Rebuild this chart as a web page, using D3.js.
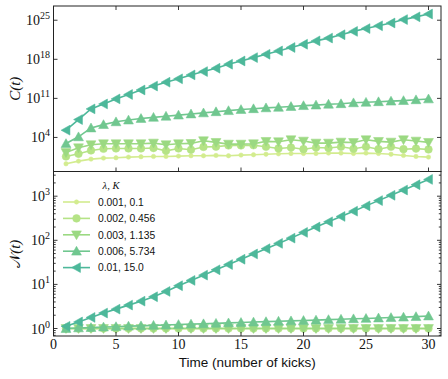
<!DOCTYPE html>
<html>
<head>
<meta charset="utf-8">
<script src="https://cdn.jsdelivr.net/npm/d3@7"></script>
<style>
  body { margin: 0; background: #fff; }
  svg { display: block; }
</style>
</head>
<body>
<svg id="chart" width="448" height="379"></svg>
<script>
const width = 448;
const height = 379;

// data
const times = d3.range(1, 31);
const labels = ["0.001, 0.1", "0.002, 0.456", "0.003, 1.135", "0.006, 5.734", "0.01, 15.0"];
const colors = ["#d3ec8f", "#b5e386", "#9bd982", "#70c78f", "#4db89a"];
const markers = ["point", "circle", "down", "up", "left"];

// C(t)
const cSeries001 = [0.19, 0.58, 1.32, 2.0, 2.29, 3.02, 3.47, 3.98, 3.98, 4.57, 5.25, 5.25, 6.03, 5.25, 6.92,
  7.94, 10, 11.7, 13.5, 13.5, 13.5, 15.8, 15.8, 13.5, 15.8, 13.5, 10, 6.03, 3.98, 3.02];
const cSeries002 = [3.9, 11.7, 47, 93, 107, 107, 107, 126, 40, 107, 63, 200, 224, 372, 372,
  398, 214, 107, 158, 79, 158, 126, 214, 93, 214, 79, 214, 79, 100, 71];
const cSeries003 = [20, 141, 490, 741, 741, 741, 741, 977, 490, 741, 851, 2570, 1290, 646, 646,
  741, 1950, 1700, 3890, 2240, 977, 977, 1480, 1260, 3890, 1950, 1480, 3890, 2240, 1290];
const cSeries006 = [8e2, 1.3e4, 5e5, 2e6, 6.3e6, 1.3e7, 2.5e7, 4e7, 6.3e7, 1e8, 1.6e8, 2.5e8, 4e8, 6.3e8, 1e9,
  1.4e9, 2e9, 2.5e9, 3.5e9, 5e9, 6.3e9, 8.9e9, 1.1e10, 1.6e10, 2e10, 2.5e10, 3.2e10, 4e10, 5.6e10, 7.9e10];
const cSeries01 = [2e5, 1.6e7, 1.3e9, 1e10, 8e10, 5e11, 3.2e12, 1.6e13, 7.9e13, 3.2e14, 1.6e15, 6.3e15, 2.5e16, 1.3e17, 5e17,
  2e18, 7.9e18, 3.2e19, 1.3e20, 5e20, 2e21, 6.3e21, 2.5e22, 1e23, 3.2e23, 1e24, 3.2e24, 1.3e25, 4e25, 1.3e26];

// N(t)
const nSeries001 = [1, 1, 1, 1, 1, 1, 1, 1, 1, 1, 1, 1, 1, 1, 1, 1, 1, 1, 1, 1, 1, 1, 1, 1, 1, 1, 1, 1, 1, 1];
const nSeries002 = [1, 1, 1, 1, 1, 1, 1, 1, 1, 1, 1, 1, 1, 1, 1, 1, 1, 1, 1, 1, 1, 1, 1, 1, 1, 1, 1, 1, 1, 1];
const nSeries003 = [1, 1, 1, 1, 1, 1, 1, 1, 1, 1, 1, 1, 1, 1, 1, 1, 1, 1, 1, 1, 1, 1, 1, 1, 1, 1, 1, 1, 1, 1];
const nSeries006 = [1.0, 1.03, 1.05, 1.08, 1.10, 1.13, 1.15, 1.18, 1.20, 1.23, 1.26, 1.28, 1.31, 1.34, 1.37,
  1.40, 1.43, 1.46, 1.49, 1.52, 1.55, 1.59, 1.62, 1.66, 1.69, 1.73, 1.77, 1.81, 1.86, 1.92];
const nSeries01 = [1.12, 1.41, 1.78, 2.24, 2.75, 3.39, 4.17, 5.25, 6.92, 9.33, 12.3, 16.2, 21.4, 28.2, 37.2,
  49.0, 64.6, 85.1, 112, 151, 200, 263, 347, 457, 603, 794, 1047, 1380, 1820, 2400];

const xTicks = [0, 5, 10, 15, 20, 25, 30];
const cTicks = [4, 11, 18, 25];   // exponents
const nTicks = [0, 1, 2, 3];

const cData = [cSeries001, cSeries002, cSeries003, cSeries006, cSeries01];
const nData = [nSeries001, nSeries002, nSeries003, nSeries006, nSeries01];

const left = 53.5, right = 441;
const topY0 = 6, midY = 171.5, botY1 = 336;

const svg = d3.select("#chart");
const axisColor = "#222";

const x = d3.scaleLinear().domain([0, 31]).range([left, right]);
const yC = d3.scaleLog().domain([Math.pow(10, -2.1), Math.pow(10, 27.55)]).range([midY, topY0]);
const yN = d3.scaleLog().domain([Math.pow(10, -0.17), Math.pow(10, 3.56)]).range([botY1, midY]);

// marker path builder
function markerPath(kind) {
  if (kind === "point") return d3.symbol(d3.symbolCircle, 15)();
  if (kind === "circle") return d3.symbol(d3.symbolCircle, 46)();
  const s = 4.9;
  if (kind === "up") return `M0,${-s}L${s},${s * 0.8}L${-s},${s * 0.8}Z`;
  if (kind === "down") return `M0,${s}L${s},${-s * 0.8}L${-s},${-s * 0.8}Z`;
  return `M${-s},0L${s * 0.8},${-s}L${s * 0.8},${s}Z`;
}

function drawPanel(y, data) {
  const g = svg.append("g");
  const line = d3.line().x((d, i) => x(times[i])).y(d => y(d));
  data.forEach((vals, k) => {
    g.append("path")
      .attr("d", line(vals))
      .attr("fill", "none")
      .attr("stroke", colors[k])
      .attr("stroke-width", 1.6);
    g.selectAll(null)
      .data(vals)
      .enter()
      .append("path")
      .attr("d", markerPath(markers[k]))
      .attr("transform", (d, i) => `translate(${x(times[i])},${y(d)})`)
      .attr("fill", colors[k])
      .attr("stroke", colors[k])
      .attr("stroke-opacity", 0.55)
      .attr("stroke-width", 1);
  });
}

drawPanel(yC, cData);
drawPanel(yN, nData);

// frames
[[topY0, midY], [midY, botY1]].forEach(([a, b]) => {
  svg.append("rect")
    .attr("x", left).attr("y", a)
    .attr("width", right - left).attr("height", b - a)
    .attr("fill", "none").attr("stroke", axisColor).attr("stroke-width", 1);
});

function tickLines(values, pos, len, orient) {
  svg.append("g").selectAll("line")
    .data(values)
    .enter()
    .append("line")
    .attr("x1", d => orient === "h" ? pos[0] : x(d))
    .attr("x2", d => orient === "h" ? pos[0] + len : x(d))
    .attr("y1", d => orient === "h" ? pos[1](d) : pos[0])
    .attr("y2", d => orient === "h" ? pos[1](d) : pos[0] + len)
    .attr("stroke", axisColor)
    .attr("stroke-width", 0.9);
}

// x ticks (inward)
tickLines(xTicks, [topY0], 4, "v");
tickLines(xTicks, [midY], -4, "v");
tickLines(xTicks, [botY1], -4, "v");

// y ticks top panel
const cMajor = cTicks.map(e => Math.pow(10, e));
tickLines(cMajor, [left, yC], 4, "h");
tickLines(cMajor, [right, yC], -4, "h");

// y ticks bottom panel, major and minor
const nMajor = nTicks.map(e => Math.pow(10, e));
const nMinor = [];
[-1, 0, 1, 2, 3].forEach(e => d3.range(2, 10).forEach(m => {
  const v = m * Math.pow(10, e);
  if (v > yN.domain()[0] && v < yN.domain()[1]) nMinor.push(v);
}));
tickLines(nMajor, [left, yN], 4, "h");
tickLines(nMajor, [right, yN], -4, "h");
tickLines(nMinor, [left, yN], 2.2, "h");
tickLines(nMinor, [right, yN], -2.2, "h");

// tick labels
const serif = "'Liberation Serif', 'Times New Roman', serif";
svg.append("g").selectAll("text")
  .data(xTicks)
  .enter()
  .append("text")
  .attr("x", d => x(d))
  .attr("y", 349)
  .attr("text-anchor", "middle")
  .attr("font-family", serif)
  .attr("font-size", 14)
  .attr("fill", "#111")
  .text(d => d);

function powLabels(exps, y) {
  const t = svg.append("g").selectAll("text")
    .data(exps)
    .enter()
    .append("text")
    .attr("x", 50)
    .attr("y", d => y(Math.pow(10, d)) + 5)
    .attr("text-anchor", "end")
    .attr("font-family", serif)
    .attr("font-size", 14)
    .attr("fill", "#111");
  t.append("tspan").text("10");
  t.append("tspan").attr("dy", -6).attr("font-size", 10).text(d => d);
}
powLabels(cTicks, yC);
powLabels(nTicks, yN);

// axis titles
svg.append("text")
  .attr("transform", `translate(20,${(topY0 + midY) / 2}) rotate(-90)`)
  .attr("text-anchor", "middle")
  .attr("font-family", serif)
  .attr("font-style", "italic")
  .attr("font-size", 15)
  .attr("fill", "#111")
  .text("C(t)");

const nTitle = svg.append("text")
  .attr("transform", `translate(20,${(midY + botY1) / 2}) rotate(-90)`)
  .attr("text-anchor", "middle")
  .attr("font-family", serif)
  .attr("font-size", 15)
  .attr("fill", "#111");
nTitle.append("tspan").text("\u{1D4A9}");
nTitle.append("tspan").attr("font-style", "italic").text("(t)");

svg.append("text")
  .attr("x", (left + right) / 2)
  .attr("y", 367)
  .attr("text-anchor", "middle")
  .attr("font-family", "'Liberation Sans', Arial, sans-serif")
  .attr("font-size", 13.5)
  .attr("fill", "#111")
  .text("Time (number of kicks)");

// legend
const legend = svg.append("g");
legend.append("text")
  .attr("x", 111)
  .attr("y", 189)
  .attr("text-anchor", "middle")
  .attr("font-family", serif)
  .attr("font-style", "italic")
  .attr("font-size", 10.5)
  .attr("fill", "#111")
  .text("λ, K");

labels.forEach((lab, k) => {
  const yy = 202 + k * 16.4;
  legend.append("line")
    .attr("x1", 63).attr("x2", 90)
    .attr("y1", yy).attr("y2", yy)
    .attr("stroke", colors[k]).attr("stroke-width", 1.6);
  legend.append("path")
    .attr("d", markerPath(markers[k]))
    .attr("transform", `translate(76.5,${yy})`)
    .attr("fill", colors[k])
    .attr("stroke", colors[k])
    .attr("stroke-opacity", 0.55);
  legend.append("text")
    .attr("x", 98)
    .attr("y", yy + 3.7)
    .attr("font-family", "'Liberation Sans', Arial, sans-serif")
    .attr("font-size", 10.3)
    .attr("fill", "#111")
    .text(lab);
});
</script>
</body>
</html>
